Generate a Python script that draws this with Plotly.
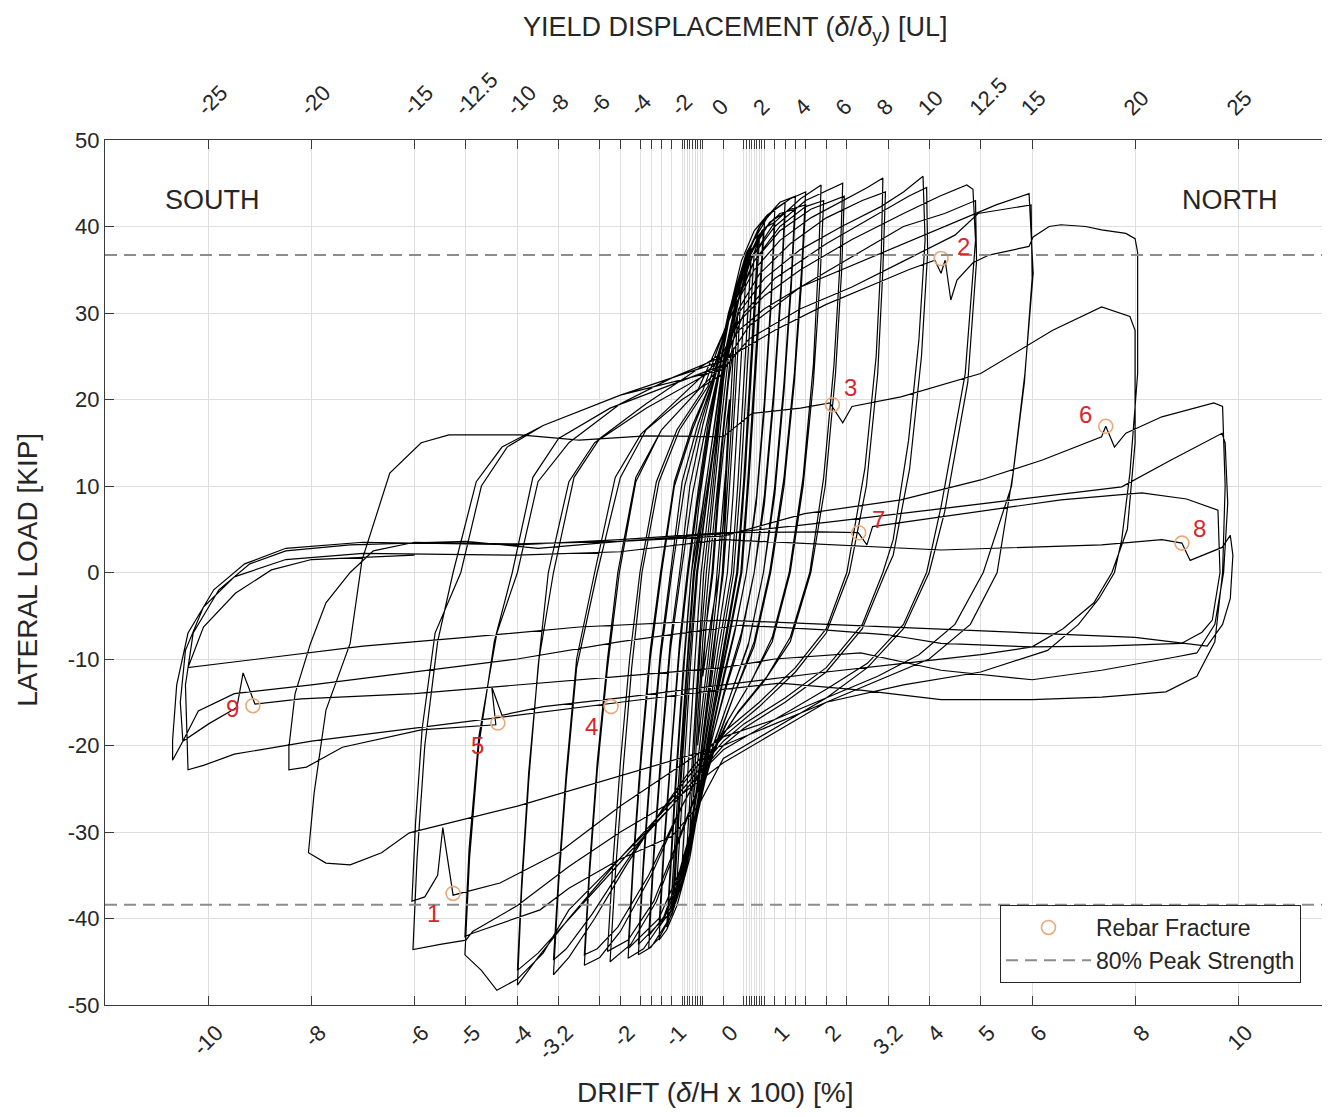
import plotly.graph_objects as go

# ---------------- data (drift %, lateral load kip) ----------------
cycles_elastic = [
    (0.00, 0), (0.03, 6), (0.06, 12), (0.00, 6), (-0.08, 0), (-0.25, -6), (-0.40, -12), (-0.33, -6), (-0.20, 0),
    (-0.10, 8), (0.00, 14), (0.12, 20), (0.05, 12), (-0.08, 3), (-0.15, -2), (-0.30, -10), (-0.42, -16), (-0.50, -20), (-0.42, -12), (-0.30, -4), (-0.22, 0),
    (-0.12, 8), (0.00, 16), (0.10, 22), (0.20, 26), (0.12, 17), (0.02, 7), (-0.08, 0), (-0.22, -8), (-0.38, -16), (-0.50, -22), (-0.58, -26), (-0.50, -17), (-0.40, -8), (-0.28, 0),
    (-0.15, 8), (-0.02, 16), (0.12, 24), (0.28, 30), (0.18, 19), (0.06, 8), (-0.02, 0), (-0.20, -10), (-0.38, -18), (-0.52, -25), (-0.65, -30), (-0.55, -19), (-0.44, -8), (-0.33, 0),
    (-0.20, 8), (-0.05, 17), (0.10, 25), (0.25, 30.5), (0.35, 33), (0.24, 21), (0.10, 8), (0.00, 0), (-0.20, -9), (-0.40, -19), (-0.56, -27), (-0.72, -33), (-0.60, -21), (-0.48, -9), (-0.38, 0),
    (-0.25, 7), (-0.10, 16), (0.05, 25), (0.22, 31), (0.45, 35.5), (0.33, 23), (0.19, 9), (0.08, 0), (-0.15, -9), (-0.38, -19), (-0.58, -28), (-0.82, -35.5), (-0.69, -23), (-0.55, -10), (-0.43, 0),
    (-0.30, 7), (-0.12, 16), (0.05, 25), (0.25, 32), (0.55, 37.5), (0.43, 25), (0.28, 10), (0.16, 0), (-0.10, -9), (-0.35, -19), (-0.60, -29), (-0.92, -37.5), (-0.78, -24), (-0.63, -10), (-0.50, 0),
    (-0.35, 7), (-0.15, 16), (0.05, 25), (0.30, 33), (0.68, 39), (0.55, 26), (0.40, 11), (0.26, 0), (0.00, -9), (-0.30, -19), (-0.60, -30), (-1.00, -39.5), (-0.85, -25), (-0.70, -11), (-0.56, 0),
    (-0.38, 7), (-0.18, 15), (0.02, 24), (0.30, 33), (0.55, 38), (0.80, 40.5), (0.67, 27), (0.50, 11), (0.36, 0), (0.10, -8), (-0.25, -18), (-0.55, -29), (-0.80, -36), (-1.10, -41), (-0.95, -26), (-0.78, -11), (-0.62, 0),
]

cycles_repeat = [
    (-0.42, 7), (-0.22, 15), (-0.02, 23), (0.22, 30), (0.45, 35), (0.60, 37), (0.48, 25), (0.33, 10), (0.20, 0), (-0.05, -9), (-0.32, -19), (-0.58, -28), (-0.78, -34), (-0.95, -37), (-0.82, -24), (-0.66, -10), (-0.52, 0),
    (-0.33, 8), (-0.13, 17), (0.07, 25), (0.30, 31.5), (0.50, 35.5), (0.70, 38.5), (0.57, 26), (0.42, 11), (0.28, 0), (0.02, -9), (-0.28, -19), (-0.55, -28.5), (-0.80, -35), (-1.02, -39), (-0.88, -25), (-0.72, -11), (-0.58, 0),
    (-0.40, 7.5), (-0.20, 16), (0.00, 24.5), (0.25, 31.5), (0.50, 36.5), (0.78, 39.5), (0.64, 26.5), (0.48, 11), (0.34, 0), (0.06, -8.5), (-0.26, -18.5), (-0.56, -29), (-0.82, -36), (-1.08, -40), (-0.93, -25.5), (-0.76, -10.5), (-0.62, 0),
]

cycles_1p0 = [
    (-0.45, 9), (-0.25, 17), (-0.05, 24), (0.15, 31), (0.35, 36), (0.60, 39.5), (0.85, 41.3), (1.00, 42),
    (0.93, 32), (0.80, 20), (0.65, 9), (0.45, 0), (0.25, -6), (0.00, -12), (-0.25, -19), (-0.45, -26), (-0.65, -33), (-0.90, -38.5), (-1.10, -41.3), (-1.25, -42.5),
    (-1.15, -32), (-1.00, -20), (-0.85, -9), (-0.68, 0),
    (-0.50, 8), (-0.30, 16), (-0.08, 23), (0.12, 30), (0.35, 35), (0.60, 38.5), (0.85, 40), (1.00, 40.5),
    (0.93, 31), (0.80, 19), (0.64, 8), (0.45, 0), (0.22, -7), (-0.02, -13), (-0.27, -20), (-0.50, -28), (-0.72, -34), (-0.95, -38.5), (-1.25, -41),
    (-1.15, -31), (-1.00, -19), (-0.85, -8), (-0.70, 0),
]

cycles_1p2 = [
    (-0.50, 9), (-0.30, 17), (-0.05, 24), (0.15, 30.5), (0.40, 36), (0.70, 40), (1.00, 42), (1.20, 42.8),
    (1.12, 33), (0.98, 21), (0.80, 9), (0.60, 0), (0.35, -7), (0.05, -13), (-0.25, -20), (-0.50, -28), (-0.75, -35), (-1.00, -39.5), (-1.25, -42.3), (-1.45, -43.5),
    (-1.35, -33), (-1.20, -21), (-1.03, -9), (-0.82, 0),
    (-0.60, 9), (-0.35, 16.5), (-0.10, 23), (0.12, 30), (0.40, 35.5), (0.70, 39), (1.00, 41), (1.20, 41.5),
    (1.12, 32), (0.98, 20), (0.80, 8), (0.60, 0), (0.33, -8), (0.02, -14), (-0.30, -21), (-0.55, -29), (-0.80, -35), (-1.05, -39), (-1.45, -42),
    (-1.35, -32), (-1.20, -20), (-1.03, -8), (-0.85, 0),
]

cycles_1p4 = [
    (-0.65, 10), (-0.40, 17), (-0.12, 23.5), (0.10, 30), (0.40, 36), (0.75, 40.5), (1.10, 42.8), (1.40, 43.5),
    (1.32, 34), (1.18, 22), (1.00, 10), (0.78, 0), (0.50, -8), (0.15, -14), (-0.20, -20), (-0.50, -28), (-0.80, -35.5), (-1.10, -40.5), (-1.40, -43.3), (-1.65, -44.2),
    (-1.55, -34), (-1.40, -22), (-1.22, -10), (-1.00, 0),
    (-0.75, 10), (-0.45, 17), (-0.15, 23), (0.10, 29.5), (0.40, 35), (0.75, 39.5), (1.10, 41.5), (1.40, 42),
    (1.32, 33), (1.18, 21), (1.00, 9), (0.78, 0), (0.48, -8.5), (0.12, -14.5), (-0.25, -21), (-0.55, -29), (-0.85, -35.5), (-1.15, -40), (-1.65, -43),
    (-1.55, -33), (-1.40, -21), (-1.22, -9), (-1.02, 0),
]

cycles_1p6 = [
    (-0.80, 10.5), (-0.50, 17), (-0.15, 23), (0.10, 30), (0.45, 37), (0.90, 41.5), (1.30, 43.2), (1.60, 44),
    (1.52, 35), (1.38, 23), (1.18, 11), (0.90, 0), (0.60, -8), (0.25, -13.5), (-0.10, -19), (-0.45, -26), (-0.80, -34), (-1.20, -40.5), (-1.55, -43.5), (-1.85, -44.6),
    (-1.75, -34), (-1.60, -22), (-1.42, -10), (-1.20, 0),
    (-0.95, 10), (-0.60, 16.5), (-0.20, 22.5), (0.10, 29.5), (0.45, 36), (0.90, 40.5), (1.30, 42), (1.60, 42.5),
    (1.52, 33.5), (1.38, 22), (1.18, 10), (0.92, 0), (0.60, -8.5), (0.22, -14), (-0.15, -20), (-0.50, -27), (-0.85, -34.5), (-1.25, -40), (-1.85, -43.5),
    (-1.75, -33), (-1.60, -21), (-1.42, -9), (-1.22, 0),
]

cycles_2p0 = [
    (-0.95, 10.5), (-0.60, 17), (-0.20, 22.5), (0.15, 31), (0.56, 36.5), (1.00, 40.5), (1.50, 43.2), (1.90, 44.8),
    (1.85, 36), (1.75, 24), (1.55, 11), (1.28, 0), (0.95, -7.5), (0.55, -12.5), (0.10, -17), (-0.35, -23), (-0.80, -30), (-1.30, -38), (-1.80, -43), (-2.20, -45),
    (-2.10, -35), (-1.95, -23), (-1.78, -11), (-1.58, 0),
    (-1.25, 10.5), (-0.85, 16.5), (-0.30, 21.5), (0.20, 31), (0.60, 36), (1.10, 40), (1.60, 42.3), (1.95, 43),
    (1.88, 34), (1.75, 22), (1.55, 10), (1.30, 0), (0.95, -8), (0.50, -13), (0.05, -17.5), (-0.40, -23.5), (-0.85, -30.5), (-1.35, -38), (-1.85, -42.5), (-2.25, -43.8),
    (-2.15, -34), (-2.00, -22), (-1.82, -10), (-1.62, 0),
]

cycles_2p4 = [
    (-1.30, 10.5), (-0.90, 16.5), (-0.40, 21), (0.20, 31), (0.50, 36), (1.00, 40), (1.60, 43), (2.32, 45),
    (2.27, 36), (2.15, 24), (1.95, 11), (1.68, 0), (1.30, -7.5), (0.85, -12), (0.30, -16), (-0.25, -21), (-0.80, -27), (-1.40, -35), (-2.00, -41.5), (-2.40, -44.5), (-2.70, -45.4),
    (-2.60, -35), (-2.45, -23), (-2.25, -11), (-2.02, 0),
    (-1.70, 10.5), (-1.20, 16.5), (-0.50, 21), (0.25, 31), (0.60, 36), (1.10, 39.5), (1.70, 42), (2.35, 43.5),
    (2.30, 35), (2.18, 23), (1.98, 10), (1.70, 0), (1.30, -8), (0.80, -12.5), (0.25, -16.5), (-0.30, -21.5), (-0.85, -27.5), (-1.45, -35), (-2.05, -41), (-2.45, -43.5), (-2.70, -44.2),
    (-2.60, -34), (-2.45, -22), (-2.25, -10), (-2.05, 0),
]

cycles_3p2 = [
    (-1.70, 11), (-1.20, 16.5), (-0.50, 21), (0.00, 24), (0.25, 31), (0.60, 35), (1.10, 38.4), (1.70, 41), (2.28, 42.8), (2.80, 44.5), (3.10, 45.6),
    (3.07, 37), (2.97, 25), (2.75, 12), (2.40, 0), (2.00, -6.5), (1.40, -11), (0.70, -15), (0.00, -18.5), (-0.60, -22.5), (-1.20, -27.5), (-1.90, -34), (-2.50, -40), (-3.00, -44.5), (-3.30, -46.5),
    (-3.20, -36), (-3.05, -24), (-2.85, -11), (-2.45, 0),
    (-2.00, 11), (-1.50, 16.5), (-0.80, 20), (0.00, 23), (0.30, 30.5), (0.70, 34.5), (1.30, 38), (2.00, 41), (2.70, 43), (3.15, 44),
    (3.10, 35), (3.00, 23), (2.78, 10), (2.45, 0), (2.00, -7), (1.40, -11.5), (0.70, -15.5), (0.00, -19), (-0.60, -23), (-1.25, -28), (-1.95, -34), (-2.55, -39.5), (-3.05, -43.5), (-3.30, -44.8),
    (-3.20, -35), (-3.05, -23), (-2.85, -10), (-2.50, 0),
]

cycles_4p0 = [
    (-2.10, 11), (-1.60, 16), (-0.80, 20.5), (0.00, 25), (0.30, 30), (0.80, 34), (1.49, 37.3), (2.30, 40), (3.06, 42.3), (3.50, 44), (3.88, 45.8),
    (3.92, 38.4), (3.80, 26.9), (3.60, 15.3), (3.30, 3.8), (3.10, 0), (2.70, -6), (2.00, -11), (1.20, -14.5), (0.40, -17.5), (0.00, -19.5), (-0.50, -23), (-1.00, -26.5), (-2.00, -33), (-3.00, -40), (-3.60, -44.5), (-4.00, -47.7),
    (-3.92, -37), (-3.78, -24), (-3.60, -11), (-3.40, 0),
    (-3.00, 10.5), (-2.50, 15), (-1.50, 19), (0.00, 24), (0.40, 30), (1.00, 34), (2.00, 38), (3.00, 41.5), (3.60, 43.5), (3.95, 44.5),
    (3.97, 37), (3.85, 25), (3.62, 12), (3.30, 2), (3.15, 0), (2.70, -6.5), (2.00, -11.5), (1.20, -15), (0.40, -18), (0.00, -20), (-0.50, -23.5), (-1.00, -27), (-2.00, -33.5), (-3.00, -40), (-3.60, -44), (-4.00, -46),
    (-3.92, -36), (-3.78, -23), (-3.58, -10), (-3.30, 0),
]

cycles_5p0 = [
    (-2.90, 11), (-2.40, 15.5), (-1.50, 19.5), (0.00, 25.5), (0.30, 29), (0.80, 32), (1.50, 35), (2.50, 38.5), (3.50, 41.5), (4.20, 43.5), (4.73, 44.8), (4.85, 44.3),
    (4.90, 38.4), (4.70, 23), (4.23, 7.6), (3.95, 0), (3.50, -6), (2.80, -10.5), (2.00, -13.5), (1.00, -17), (0.00, -20.5), (-0.50, -23.5), (-1.00, -27), (-2.00, -33), (-3.00, -39), (-3.50, -44), (-4.00, -47), (-4.40, -48.3), (-4.70, -46), (-5.02, -44.2),
    (-4.93, -33), (-4.75, -20), (-4.45, -8), (-4.10, 0),
    (-3.70, 11), (-3.20, 15.5), (-2.20, 19), (0.00, 24), (0.50, 28.5), (1.50, 33), (2.50, 36.5), (3.50, 40), (4.30, 41.5), (4.90, 43),
    (4.92, 36), (4.75, 22), (4.30, 7), (4.00, 0), (3.50, -6.5), (2.80, -11), (2.00, -14.5), (1.00, -18), (0.00, -21.5), (-0.49, -27), (-1.00, -30.5), (-2.03, -33.2), (-3.00, -36.5), (-3.56, -39), (-4.30, -40.5), (-4.87, -41.7), (-5.02, -42.1),
    (-4.94, -32), (-4.75, -19), (-4.40, -7), (-4.00, 0),
]

cycles_6p0 = [
    (-3.60, 10.5), (-3.00, 15), (-2.00, 19.5), (-1.00, 22.5), (0.00, 25), (0.30, 28), (0.80, 30.5), (1.50, 33), (2.50, 35.5), (3.50, 38), (4.50, 40.5), (5.30, 42.5), (5.94, 43.8),
    (6.02, 34.6), (5.86, 23), (5.63, 11.5), (5.32, 0), (4.80, -6), (4.00, -10), (3.00, -12.5), (2.00, -15), (1.00, -18.5), (0.00, -22), (-1.00, -26.5), (-2.00, -30), (-3.00, -34), (-4.00, -38.5), (-4.87, -41.5), (-5.00, -42.5), (-5.50, -43), (-6.03, -43.6),
    (-5.95, -33), (-5.80, -20), (-5.55, -8), (-5.25, 0),
    (-4.80, 10.5), (-4.30, 14.5), (-3.50, 17), (-2.00, 20.5), (0.00, 23.5), (0.50, 27), (1.50, 30.5), (2.50, 33), (3.50, 36), (4.50, 39), (4.95, 41.5), (5.50, 42), (5.98, 42.5),
    (6.00, 34), (5.85, 22), (5.60, 10), (5.05, 0), (4.50, -6), (3.80, -9.5), (3.00, -12), (2.00, -14.5), (1.00, -17), (0.00, -19), (-1.00, -23), (-2.00, -27), (-3.20, -32.4), (-4.34, -35.9), (-5.25, -37.3), (-5.45, -29.5), (-5.55, -35), (-5.80, -37.5), (-6.05, -38),
    (-5.98, -29), (-5.85, -18), (-5.60, -7), (-5.10, 0),
]

cycles_8p0 = [
    (-4.70, 10), (-4.20, 14.5), (-3.50, 17), (-2.00, 20.5), (0.00, 24.5), (1.00, 28), (2.00, 31), (3.00, 33.5), (3.60, 35), (4.11, 36.1), (4.23, 34.6), (4.31, 36.1), (4.42, 31.5), (4.54, 33.8), (4.85, 35.8), (5.16, 36.7), (5.94, 37.7), (6.02, 38.8), (6.33, 40), (6.56, 40.2), (7.04, 40), (7.35, 39.6), (7.82, 39.2), (8.00, 38.6),
    (8.05, 37), (8.05, 23), (7.90, 11.5), (7.74, 3.8), (7.60, 0), (7.30, -3), (6.90, -6), (6.30, -9), (5.00, -11.5), (3.50, -13), (2.00, -15), (0.00, -20), (-2.00, -23.5), (-4.00, -27), (-6.10, -30.1), (-6.64, -32.4), (-7.25, -33.8), (-7.72, -33.6), (-8.06, -32.4),
    (-7.95, -25.5), (-7.72, -15.9), (-7.25, -8.2), (-7.02, 1.4), (-6.48, 11.5), (-5.87, 15), (-5.33, 15.9), (-3.95, 15.9), (-2.80, 15.3), (-1.50, 15.8), (0.00, 15.7),
    (0.56, 18.4), (1.50, 19), (2.07, 19.6), (2.32, 17.3), (2.50, 19.2), (3.45, 20.3), (5.00, 23), (6.40, 28), (7.35, 30.7), (7.90, 29.6),
    (8.00, 28), (8.00, 15), (7.85, 5), (7.55, 0), (7.20, -3.5), (6.60, -6.5), (6.00, -8.6), (5.00, -9.5), (3.50, -10.5), (2.00, -11.5), (0.00, -13), (-2.00, -14.5), (-3.50, -15.5), (-4.30, -16.5), (-4.50, -13.2), (-4.42, -17.6), (-5.87, -18.2), (-7.40, -20.2), (-8.10, -22.5), (-8.44, -22.8),
    (-8.44, -20.2), (-8.32, -14), (-8.02, -8.2), (-7.72, -3.5), (-7.25, 0), (-6.80, 2.5), (-6.00, 3.5), (-4.00, 3.3), (-2.00, 3.6), (0.00, 4.2),
]

cycles_10p0 = [
    (1.58, 6.8), (3.45, 8.4), (5.00, 10.7), (6.20, 13), (7.35, 15.7), (7.43, 16.9), (7.60, 14.5), (7.82, 16.1), (8.52, 18), (9.00, 18.8), (9.53, 19.6), (9.70, 19.2),
    (9.75, 10), (9.70, 0), (9.55, -8), (9.20, -12), (8.60, -13.8), (7.35, -14.4), (6.00, -14.7), (4.23, -14.7), (2.67, -13.6), (1.10, -12.8), (0.00, -13.5), (-2.00, -15), (-4.00, -16.5), (-6.00, -18), (-8.00, -19.5), (-9.50, -21), (-10.10, -22.3), (-10.40, -22.8),
    (-10.42, -19.5), (-10.45, -13), (-10.30, -7), (-9.80, -2), (-9.20, 1), (-8.50, 2.5), (-7.25, 3.2), (-5.00, 3.6), (-3.60, 2.8), (-2.00, 3.6), (0.00, 4.5),
    (2.00, 5.8), (4.00, 7.2), (6.00, 8.6), (7.74, 9.9), (8.70, 13), (9.69, 16.1), (9.75, 15),
    (9.80, 8), (9.72, 0), (9.55, -6), (9.20, -9.3), (8.76, -9.8), (7.35, -11.3), (6.00, -12.4), (4.23, -11.3), (2.67, -9.3), (1.00, -10), (0.00, -11), (-2.00, -12), (-4.00, -13), (-6.00, -14), (-8.20, -14.6), (-9.10, -15.2), (-9.33, -11.6), (-9.45, -15.6), (-10.00, -17.5), (-10.50, -19.5), (-10.70, -21.7),
    (-10.70, -19.4), (-10.62, -13), (-10.40, -7), (-9.90, -2), (-9.30, 1), (-8.50, 2.8), (-7.00, 3.5), (-4.00, 3.2), (-2.00, 3.8), (0.00, 4.6),
    (1.89, 4.7), (2.62, 4.6), (2.79, 3.2), (2.90, 5.3), (4.23, 6.4), (6.56, 8.4), (8.13, 9.2), (9.00, 8.5), (9.61, 7.2),
    (9.65, 0), (9.50, -5.5), (9.30, -6.9), (8.90, -8.2), (7.35, -8.5), (6.00, -8.6), (4.23, -8.2), (3.20, -7.2), (1.89, -6.6), (0.32, -6.1), (-2.00, -8), (-4.00, -10), (-6.00, -11.5), (-8.00, -13), (-9.50, -14), (-10.20, -16), (-10.50, -19.5),
    (-10.55, -15), (-10.45, -9), (-10.10, -4), (-9.50, -0.5), (-8.50, 1.5), (-7.00, 2.2), (-4.00, 2.0), (-2.00, 2.4), (0.00, 3.8),
    (4.23, 2.6), (7.35, 3.2), (8.52, 3.8), (8.91, 3.4), (9.07, 1.4), (9.69, 2.9), (9.85, 4.3),
    (9.90, 2), (9.85, -3), (9.70, -6), (9.40, -8.5), (8.00, -7.5), (6.00, -7), (4.00, -6.5), (2.00, -6), (0.00, -5.5), (-2.80, -6.3), (-5.00, -7.5), (-7.00, -8.5), (-9.00, -10), (-10.00, -10.7), (-10.40, -11),
    (-10.10, -6.3), (-9.48, -2.4), (-8.78, 0.3), (-8.00, 1.5), (-6.00, 2),
]

# rebar fracture events
fracture_ids = ["1", "2", "3", "4", "5", "6", "7", "8", "9"]
fracture_drift = [-5.25, 4.23, 2.12, -2.18, -4.38, 7.43, 2.63, 8.91, -9.14]
fracture_load = [-37.1, 36.3, 19.4, -15.5, -17.4, 16.9, 4.6, 3.4, -15.4]

# 80% of peak strength (kip)
peak80_pos = 36.7
peak80_neg = -38.4

# axes ticks: drift (%) positions, drift labels, yield-displacement labels
drift_ticks = [-10, -8, -6, -5, -4, -3.2, -2.4, -2, -1.6, -1.4, -1.2, -1,
               -0.8, -0.75, -0.7, -0.65, -0.6, -0.55, -0.5, -0.45, -0.4,
               0,
               0.4, 0.45, 0.5, 0.55, 0.6, 0.65, 0.7, 0.75, 0.8,
               1, 1.2, 1.4, 1.6, 2, 2.4, 3.2, 4, 5, 6, 8, 10]
drift_label_map = {-10: "-10", -8: "-8", -6: "-6", -5: "-5", -4: "-4", -3.2: "-3.2", -2: "-2", -1: "-1",
                   0: "0", 1: "1", 2: "2", 3.2: "3.2", 4: "4", 5: "5", 6: "6", 8: "8", 10: "10"}
yield_label_map = {-10: "-25", -8: "-20", -6: "-15", -5: "-12.5", -4: "-10", -3.2: "-8", -2.4: "-6",
                   -1.6: "-4", -0.8: "-2", 0: "0", 0.8: "2", 1.6: "4", 2.4: "6", 3.2: "8", 4: "10",
                   5: "12.5", 6: "15", 8: "20", 10: "25"}
load_ticks = [-50, -40, -30, -20, -10, 0, 10, 20, 30, 40, 50]
load_labels = ["-50", "-40", "-30", "-20", "-10", "0", "10", "20", "30", "40", "50"]

# ---------------- build figure ----------------
x_range = [-12.013, 11.787]
TXT = "#262626"
AX = "#3a3a3a"
GRID = "#dedede"
FONT = "Liberation Sans, Arial, Helvetica, sans-serif"

hx, hy = [], []
for grp in [cycles_elastic, cycles_repeat, cycles_1p0, cycles_1p2, cycles_1p4, cycles_1p6, cycles_2p0,
            cycles_2p4, cycles_3p2, cycles_4p0, cycles_5p0, cycles_6p0, cycles_8p0, cycles_10p0]:
    for px, py in grp:
        hx.append(px)
        hy.append(py)

fig = go.Figure()
fig.add_trace(go.Scatter(x=hx, y=hy, mode="lines", line=dict(color="black", width=1.2),
                         showlegend=False, hoverinfo="skip"))

fig.add_trace(go.Scatter(x=fracture_drift, y=fracture_load, mode="markers", name="Rebar Fracture",
                         marker=dict(symbol="circle-open", size=14, color="#EBA878", line=dict(width=1.6))))

fig.add_trace(go.Scatter(x=x_range, y=[peak80_pos, peak80_pos], mode="lines", name="80% Peak Strength",
                         line=dict(color="#8c8c8c", width=2, dash="12px,7px"), xaxis="x2"))
fig.add_trace(go.Scatter(x=x_range, y=[peak80_neg, peak80_neg], mode="lines", showlegend=False,
                         line=dict(color="#8c8c8c", width=2, dash="12px,7px"), xaxis="x2"))

label_shift = {"1": (-20, -20), "2": (22, 12), "3": (18, 17), "4": (-20, -20), "5": (-20, -22),
               "6": (-20, 12), "7": (20, 13), "8": (18, 15), "9": (-20, -3)}
for fid, fx, fy in zip(fracture_ids, fracture_drift, fracture_load):
    sx, sy = label_shift[fid]
    fig.add_annotation(x=fx, y=fy, text=fid, showarrow=False, xshift=sx, yshift=sy,
                       font=dict(size=24, color="#D8262C", family=FONT))

fig.add_annotation(x=-9.92, y=43.1, text="SOUTH", showarrow=False, font=dict(size=27, color=TXT, family=FONT))
fig.add_annotation(x=9.85, y=43.1, text="NORTH", showarrow=False, font=dict(size=27, color=TXT, family=FONT))

# axis titles
fig.add_annotation(xref="paper", yref="paper", x=0.498, y=-0.1017, yanchor="middle",
                   text="DRIFT (<i>δ</i>/H x 100) [%]", showarrow=False, font=dict(size=28, color=TXT, family=FONT))
fig.add_annotation(xref="paper", yref="paper", x=0.515, y=1.128, yanchor="middle",
                   text="YIELD DISPLACEMENT (<i>δ</i>/<i>δ</i><sub>y</sub>) [UL]", showarrow=False,
                   font=dict(size=27, color=TXT, family=FONT))
fig.add_annotation(xref="paper", yref="paper", x=-0.063, y=0.503, xanchor="center", yanchor="middle",
                   textangle=-90, text="LATERAL LOAD [KIP]", showarrow=False,
                   font=dict(size=28, color=TXT, family=FONT))

drift_text = [drift_label_map.get(v, "") for v in drift_ticks]
yield_text = [yield_label_map.get(v, "") for v in drift_ticks]

common_x = dict(range=x_range, tickvals=drift_ticks, tickangle=-45, ticks="inside", ticklen=9,
                tickcolor=AX, tickwidth=1, showline=True, linecolor=AX, linewidth=1.2, zeroline=False,
                tickfont=dict(size=22, color=TXT, family=FONT), automargin=False)

# the page body adds an 8 px offset; the figure is sized so the plot area lands where the reference has it
fig.update_layout(
    width=1322, height=1109,
    margin=dict(l=97, r=0, t=132, b=112),
    plot_bgcolor="white", paper_bgcolor="white",
    font=dict(family=FONT, color=TXT, size=22),
    xaxis=dict(ticktext=drift_text, showgrid=True, gridcolor=GRID, gridwidth=1, side="bottom",
               ticklabelshift=8, ticklabelstandoff=5, **common_x),
    xaxis2=dict(ticktext=yield_text, overlaying="x", side="top", anchor="y", showgrid=False,
                ticklabelshift=-10, ticklabelstandoff=10, **common_x),
    yaxis=dict(range=[-50, 50], tickvals=load_ticks, ticktext=load_labels,
               ticks="inside", ticklen=9, tickcolor=AX, showline=True, linecolor=AX, linewidth=1.2,
               showgrid=True, gridcolor=GRID, zeroline=False, automargin=False,
               tickfont=dict(size=22, color=TXT, family=FONT)),
    legend=dict(x=0.7306, y=0.1156, xanchor="left", yanchor="top", bordercolor="#262626", borderwidth=1,
                bgcolor="white", font=dict(size=23, color=TXT, family=FONT), itemwidth=85, tracegroupgap=2),
)

fig.write_html("out.html")
